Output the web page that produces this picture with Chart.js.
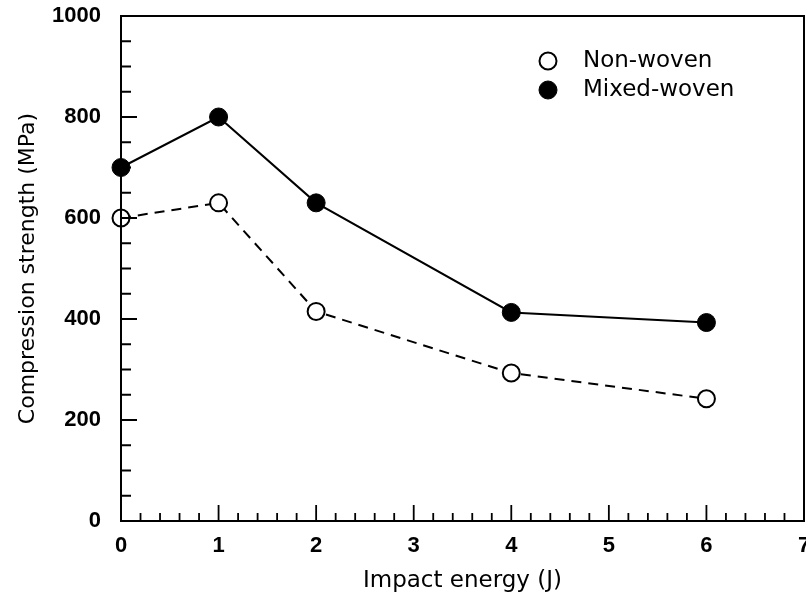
<!DOCTYPE html>
<html>
<head>
<meta charset="utf-8">
<title>Compression strength vs impact energy</title>
<script src="https://cdn.jsdelivr.net/npm/chart.js@4.4.0/dist/chart.umd.min.js"></script>
<style>
    html, body { margin: 0; padding: 0; background: #fff; }
    #wrap { width: 806px; height: 601px; }
</style>
</head>
<body>
<div id="wrap"><canvas id="strengthChart" width="806" height="601"></canvas></div>
<script>
// Data
const impactEnergy = [0, 1, 2, 4, 6];
const nonWoven = [600, 630, 415, 293, 242];
const mixedWoven = [700, 800, 630, 413, 393];
const xTickValues = [0, 1, 2, 3, 4, 5, 6, 7];
const yTickValues = [0, 200, 400, 600, 800, 1000];

const TEXT_FONT = '"DejaVu Sans", sans-serif';
const NUM_FONT = '"Liberation Sans", Arial, sans-serif';
const X_MAX = xTickValues[xTickValues.length - 1];

function toPoints(values) {
    return impactEnergy.map((e, i) => ({ x: e, y: values[i] }));
}

// Frame, inward tick marks and the x tick labels
// (x labels drawn here so the last "7" can run off the edge like the scan)
const framePlugin = {
    id: 'frame',
    afterDatasetsDraw(chart) {
        const { ctx, chartArea: a, scales: { x, y } } = chart;
        ctx.save();
        ctx.strokeStyle = '#000';
        ctx.lineWidth = 2;
        ctx.strokeRect(a.left, a.top, a.right - a.left, a.bottom - a.top);

        ctx.lineWidth = 1.8;
        ctx.beginPath();
        // x ticks every 0.2, longer on integers
        for (let i = 0; i <= X_MAX * 5; i++) {
            const px = x.getPixelForValue(i / 5);
            const len = (i % 5 === 0) ? 16 : 8;
            ctx.moveTo(px, a.bottom);
            ctx.lineTo(px, a.bottom - len);
        }
        // y ticks every 50, longer on 200 multiples
        for (let v = 0; v <= 1000; v += 50) {
            const py = y.getPixelForValue(v);
            const len = (v % 200 === 0) ? 16 : 10;
            ctx.moveTo(a.left, py);
            ctx.lineTo(a.left + len, py);
        }
        ctx.stroke();

        ctx.font = 'bold 22px ' + NUM_FONT;
        ctx.fillStyle = '#000';
        ctx.textAlign = 'center';
        ctx.textBaseline = 'middle';
        xTickValues.forEach(v => {
            ctx.fillText(String(v), x.getPixelForValue(v), a.bottom + 25);
        });
        ctx.restore();
    }
};

// Legend drawn inside the plot, upper right
const insideLegend = {
    id: 'insideLegend',
    afterDraw(chart) {
        const { ctx } = chart;
        const items = chart.data.datasets;
        const markerX = 548;
        const textX = 583;
        const rowY = [61, 90];
        ctx.save();
        ctx.font = '23px ' + TEXT_FONT;
        ctx.textBaseline = 'middle';
        items.forEach((ds, i) => {
            ctx.beginPath();
            ctx.arc(markerX, rowY[i], ds.pointRadius, 0, Math.PI * 2);
            ctx.fillStyle = ds.pointBackgroundColor;
            ctx.fill();
            ctx.lineWidth = ds.pointBorderWidth;
            ctx.strokeStyle = '#000';
            ctx.stroke();
            ctx.fillStyle = '#000';
            ctx.fillText(ds.label, textX, rowY[i]);
        });
        ctx.restore();
    }
};

const ctx = document.getElementById('strengthChart');

new Chart(ctx, {
    type: 'line',
    data: {
        datasets: [
            {
                label: 'Non-woven',
                data: toPoints(nonWoven),
                borderColor: '#000',
                borderWidth: 2,
                borderDash: [10, 7],
                pointRadius: 8.5,
                pointBorderWidth: 2,
                pointBorderColor: '#000',
                pointBackgroundColor: '#fff',
                tension: 0,
                clip: false
            },
            {
                label: 'Mixed-woven',
                data: toPoints(mixedWoven),
                borderColor: '#000',
                borderWidth: 2,
                pointRadius: 9,
                pointBorderWidth: 1,
                pointBorderColor: '#000',
                pointBackgroundColor: '#000',
                tension: 0,
                clip: false
            }
        ]
    },
    options: {
        responsive: false,
        animation: false,
        layout: {
            autoPadding: false,
            padding: { top: 16, right: 2, left: 0, bottom: 0 }
        },
        plugins: {
            legend: { display: false },
            tooltip: { enabled: false }
        },
        scales: {
            x: {
                type: 'linear',
                min: 0,
                max: X_MAX,
                grid: { display: false, drawTicks: false },
                border: { display: false },
                ticks: { display: false },
                afterFit: scale => {
                    scale.height = 80;
                    scale.paddingLeft = 0;
                    scale.paddingRight = 0;
                },
                title: {
                    display: true,
                    text: 'Impact energy (J)',
                    color: '#000',
                    padding: { top: 0, bottom: 6 },
                    font: { family: TEXT_FONT, size: 23 }
                }
            },
            y: {
                min: 0,
                max: 1000,
                grid: { display: false, drawTicks: false },
                border: { display: false },
                afterBuildTicks: scale => {
                    scale.ticks = yTickValues.map(v => ({ value: v }));
                },
                afterFit: scale => {
                    scale.width = 121;
                    scale.paddingTop = 0;
                    scale.paddingBottom = 0;
                },
                ticks: {
                    color: '#000',
                    padding: 20,
                    callback: v => String(v),
                    font: { family: NUM_FONT, size: 22, weight: 'bold' }
                },
                title: {
                    display: true,
                    text: 'Compression strength (MPa)',
                    color: '#000',
                    padding: { top: 15, bottom: 0 },
                    font: { family: TEXT_FONT, size: 22 }
                }
            }
        }
    },
    plugins: [framePlugin, insideLegend]
});
</script>
</body>
</html>
